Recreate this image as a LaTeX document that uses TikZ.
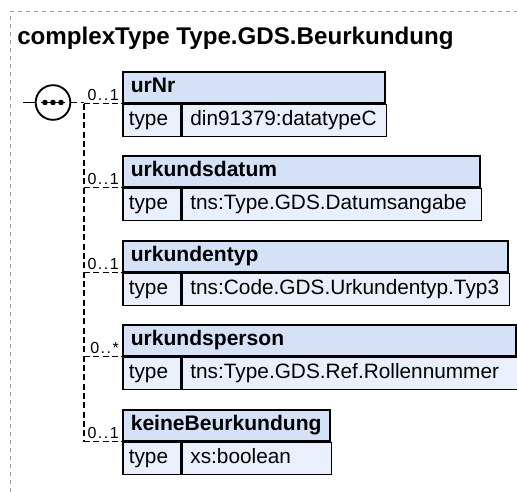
\documentclass[tikz,border=0pt]{standalone}
\usepackage{fontspec}
\setmainfont{Liberation Sans}
\definecolor{hdrblue}{HTML}{D4E1F7}
\definecolor{rowblue}{HTML}{EAF0FB}
\definecolor{framegray}{HTML}{9A9A9A}
\newcommand\occr[1]{0\kern1.1pt.\kern1.1pt.\kern1.1pt#1}
\newcommand\elembox[6]{%
  \pgfmathsetmacro\hw{(#3-122)*0.75-12}%
  \pgfmathsetmacro\vw{(#3-180)*0.75-12}%
  \node[hdr, text width=\hw pt] (h#1) at (122,#2) {#4};
  \node[cell, inner xsep=4.5pt, text width=34.5pt] (t#1) at (h#1.south west) {type};
  \node[cell, inner xsep=6pt, text width=\vw pt] (v#1) at (t#1.north east) {\mbox{#5}};
  \draw[conn] (h#1.south west -| trunk) -- (h#1.south west);
  \node[occ] (o#1) at ([xshift=-2.25pt, yshift=2.25pt]h#1.south west) {#6};
}
\begin{document}
\begin{tikzpicture}[x=0.75pt, y=-0.75pt,
  frame/.style={draw=framegray, line width=0.75pt, dash pattern=on 3pt off 3pt},
  conn/.style={draw=black, line width=1.2pt, dash pattern=on 4.5pt off 2.5pt},
  hdr/.style={draw=black, line width=1.2pt, fill=hdrblue, anchor=north west,
    minimum height=23.25pt, inner xsep=6pt, inner ysep=0pt, align=left,
    text height=11.2pt, text depth=3.3pt, font=\bfseries\fontsize{15.8pt}{18pt}\selectfont},
  cell/.style={draw=black, line width=1.2pt, fill=rowblue, anchor=north west,
    minimum height=24pt, inner ysep=0pt, align=left,
    text height=11.2pt, text depth=3.3pt, font=\fontsize{15.6pt}{18pt}\selectfont},
  occ/.style={anchor=base east, inner sep=0pt, font=\fontsize{12pt}{14pt}\selectfont},
  seqsym/.style={circle, draw=black, line width=1.4pt, fill=white, minimum size=26pt, inner sep=0pt}
]
\useasboundingbox (0,0) rectangle (517,492);
\draw[frame] (10.5,492) -- (10.5,11.5) -- (517,11.5);
\node[anchor=base west, inner sep=0pt, font=\bfseries\fontsize{18.1pt}{20pt}\selectfont] (title) at (17,45) {complexType Type.GDS.Beurkundung};
\coordinate (trunk) at (84,0);
\coordinate (stub) at (23,102.5);
\node[seqsym] (seq) at (53,102.5) {};
\draw[line width=1.3pt] ([xshift=-9pt]seq.center) -- ([xshift=9pt]seq.center);
\fill ([xshift=-6pt]seq.center) circle (2.1pt);
\fill (seq.center) circle (2.1pt);
\fill ([xshift=6pt]seq.center) circle (2.1pt);
\draw[line width=1.2pt] (stub) -- (seq.west);
\draw[conn] (seq.east) -- (seq.east -| trunk);
\elembox{1}{71}{384}{urNr}{din91379:datatypeC}{\occr{1}}
\elembox{2}{155}{479}{urkundsdatum}{tns:Type.GDS.Datumsangabe}{\occr{1}}
\elembox{3}{240}{507}{urkundentyp}{tns:Code.GDS.Urkundentyp.Typ3}{\occr{1}}
\elembox{4}{324}{515}{urkundsperson}{tns:Type.GDS.Ref.Rollennummer}{\occr{*}}
\elembox{5}{409}{329}{keineBeurkundung}{xs:boolean}{\occr{1}}
\draw[conn] (h1.south west -| trunk) -- (h5.south west -| trunk);
\end{tikzpicture}
\end{document}
